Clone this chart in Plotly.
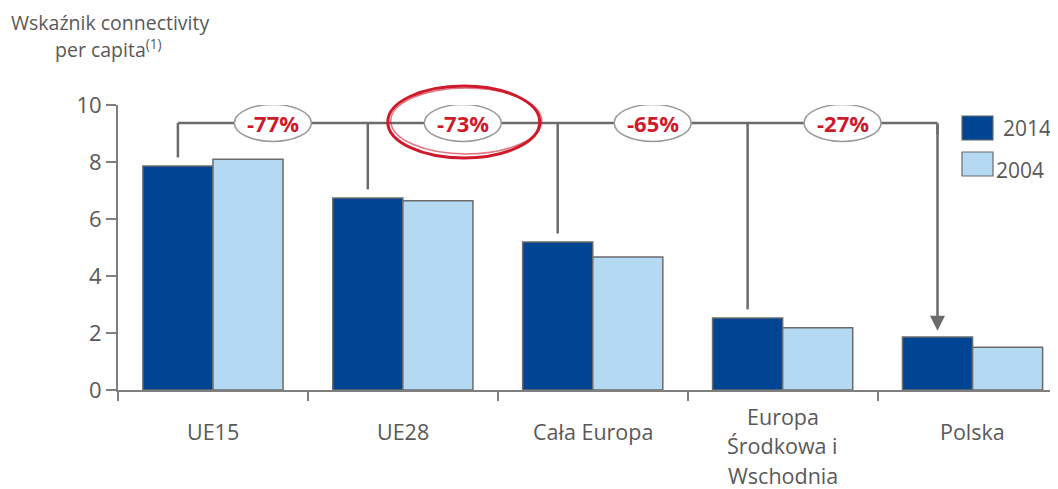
import plotly.graph_objects as go

# ---------------- data ----------------
categories = ["UE15", "UE28", "Cała Europa", "Europa<br>Środkowa i<br>Wschodnia", "Polska"]
values_2014 = [7.86, 6.74, 5.19, 2.53, 1.86]
values_2004 = [8.10, 6.64, 4.67, 2.18, 1.50]
series_names = ["2014", "2004"]
change_labels = ["-77%", "-73%", "-65%", "-27%"]
highlight_index = 1
y_ticks = [0, 2, 4, 6, 8, 10]
y_title_lines = ["Wskaźnik connectivity", "per capita<sup>(1)</sup>"]

# ---------------- style ----------------
OFF = 8  # default page body margin
W, H = 1058 - OFF, 489 - OFF
ML, MT = 118 - OFF, 105 - OFF
MB = 489 - 390
MR = 0
PW, PH = W - ML - MR, H - MT - MB
C_DARK = "#004494"
C_LIGHT = "#b3d9f3"
C_EDGE = "#6b6b6b"
C_AXIS = "#7f7f7f"
C_TEXT = "#595959"
C_RED = "#cf1a2b"
FONT = "Open Sans"
BAR_GAP = 0.262
bar_w = (1 - BAR_GAP) / 2
line_y = 9.37
gap_above = 0.3
X_RANGE = [-0.5, 4.45]
Y_RANGE = [0, 10]

xs = list(range(len(categories)))


def py_paper(py):  # py: reference page pixel
    return ((H - MB) - (py - OFF)) / PH


def px_paper(px):
    return ((px - OFF) - ML) / PW


fig = go.Figure()
fig.add_trace(go.Bar(x=xs, y=values_2014, name=series_names[0],
                     marker=dict(color=C_DARK, line=dict(color=C_EDGE, width=1.5)), showlegend=False))
fig.add_trace(go.Bar(x=xs, y=values_2004, name=series_names[1],
                     marker=dict(color=C_LIGHT, line=dict(color=C_EDGE, width=1.5)), showlegend=False))

shapes = []
annotations = []

# connector lines from 2014 bars
cx = [x - bar_w / 2 for x in xs]
shapes.append(dict(type="line", xref="x", yref="y", x0=cx[0], x1=cx[-1], y0=line_y, y1=line_y,
                   line=dict(color=C_EDGE, width=2.5), layer="above"))
for i in range(len(xs) - 1):
    shapes.append(dict(type="line", xref="x", yref="y", x0=cx[i], x1=cx[i], y0=line_y,
                       y1=values_2014[i] + gap_above, line=dict(color=C_EDGE, width=2.5), layer="above"))
# arrow to last bar
annotations.append(dict(x=cx[-1], y=values_2014[-1] + 0.22, xref="x", yref="y", ax=cx[-1], ay=line_y,
                        axref="x", ayref="y", text=" ", showarrow=True, arrowhead=2, arrowsize=1.2,
                        arrowwidth=2.5, arrowcolor=C_EDGE, standoff=0, startstandoff=0,
                        font=dict(size=1)))
shapes.append(dict(type="line", xref="x", yref="y", x0=cx[-1], x1=cx[-1], y0=line_y, y1=line_y - 0.4,
                   line=dict(color=C_EDGE, width=2.5), layer="above"))

# ovals with labels
line_paper = (line_y - Y_RANGE[0]) / (Y_RANGE[1] - Y_RANGE[0])
for i, lab in enumerate(change_labels):
    mx = (cx[i] + cx[i + 1]) / 2
    shapes.append(dict(type="circle", xref="x", yref="y", xsizemode="pixel", ysizemode="pixel",
                       xanchor=mx, yanchor=line_y, x0=-38.5, x1=38.5, y0=-18.5, y1=18.5,
                       fillcolor="white", line=dict(color="#9a9a9a", width=1.5), layer="above"))
    annotations.append(dict(x=mx, y=line_y, xref="x", yref="y", text="<b>%s</b>" % lab, showarrow=False,
                            font=dict(family=FONT, size=22, color=C_RED), xanchor="center", yanchor="middle"))
    if i == highlight_index:
        shapes.append(dict(type="circle", xref="x", yref="paper", xsizemode="pixel", ysizemode="pixel",
                           xanchor=mx, yanchor=line_paper, x0=-75, x1=77, y0=-35, y1=37,
                           line=dict(color=C_RED, width=3), layer="above"))
        shapes.append(dict(type="circle", xref="x", yref="paper", xsizemode="pixel", ysizemode="pixel",
                           xanchor=mx, yanchor=line_paper, x0=-72, x1=79, y0=-31, y1=35,
                           line=dict(color=C_RED, width=1.5), opacity=0.6, layer="above"))

# category labels
for i, lab in enumerate(categories):
    lines = lab.split("<br>")
    n = len(lines)
    center = 431 if n == 1 else 445.5
    step = 29.5
    for j, ln in enumerate(lines):
        py = center + (j - (n - 1) / 2) * step
        annotations.append(dict(x=i, y=py_paper(py), xref="x", yref="paper", text=ln, showarrow=False,
                                font=dict(family=FONT, size=21.5, color=C_TEXT), xanchor="center", yanchor="middle"))

# y title
for ln, py, px in zip(y_title_lines, [22, 48], [110, 108]):
    annotations.append(dict(x=px_paper(px), y=py_paper(py), xref="paper", yref="paper", text=ln,
                            showarrow=False, font=dict(family=FONT, size=19.5, color=C_TEXT),
                            xanchor="center", yanchor="middle"))

# custom legend
for name, col, sy, ty, tx in [(series_names[0], C_DARK, 116, 128, 1001), (series_names[1], C_LIGHT, 152, 170, 994)]:
    shapes.append(dict(type="rect", xref="paper", yref="paper",
                       x0=px_paper(962), x1=px_paper(993),
                       y0=py_paper(sy + 24), y1=py_paper(sy),
                       fillcolor=col, line=dict(color=C_EDGE, width=1.2), layer="above"))
    annotations.append(dict(x=px_paper(tx), y=py_paper(ty), xref="paper", yref="paper", text=name,
                            showarrow=False, font=dict(family=FONT, size=21, color=C_TEXT),
                            xanchor="left", yanchor="middle"))

fig.update_layout(
    width=W, height=H,
    margin=dict(l=ML, r=MR, t=MT, b=MB, pad=0),
    paper_bgcolor="white", plot_bgcolor="white",
    barmode="group", bargap=BAR_GAP, bargroupgap=0,
    shapes=shapes, annotations=annotations,
    showlegend=False,
    font=dict(family=FONT, color=C_TEXT),
)
fig.update_xaxes(range=X_RANGE, tickvals=[x - 0.5 for x in xs] + [xs[-1] + 0.5], showticklabels=False,
                 ticks="outside", ticklen=9, tickwidth=2, tickcolor=C_AXIS, showline=True, linecolor=C_AXIS,
                 linewidth=2, showgrid=False, zeroline=False, fixedrange=True)
fig.update_yaxes(range=Y_RANGE, tickvals=y_ticks, ticks="outside", ticklen=10, tickwidth=2, tickcolor=C_AXIS,
                 showline=True, linecolor=C_AXIS, linewidth=2, showgrid=False, zeroline=False,
                 tickfont=dict(family=FONT, size=22, color=C_TEXT), fixedrange=True)

fig.write_html("out.html")
